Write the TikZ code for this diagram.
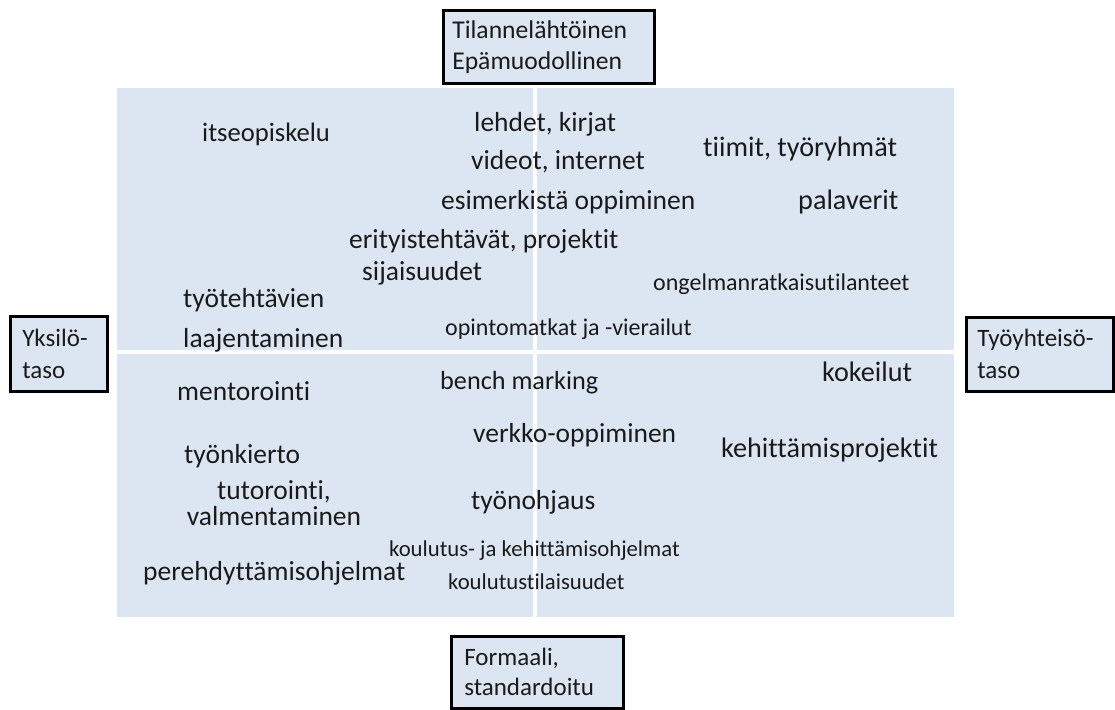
\documentclass[tikz,border=0pt]{standalone}
\usepackage{fontspec}
\setmainfont{Carlito}[Ligatures=NoCommon]
\definecolor{quadblue}{HTML}{DCE6F2}
\definecolor{inktext}{HTML}{1A1A1A}
\begin{document}
\begin{tikzpicture}[x=1pt,y=-1pt,
  % the anchor of a label sits at the middle of its lower-case letters
  lbl/.style={anchor=west,inner sep=0pt,text=inktext,font=\fontsize{27.5}{27.5}\selectfont,
    text height=20pt,text depth=7pt,yshift=-3pt},
  lblbig/.style={lbl,font=\fontsize{28.2}{28.2}\selectfont},
  lblmid/.style={lbl,font=\fontsize{24}{24}\selectfont,text height=17.5pt,text depth=6.3pt},
  lblsmall/.style={lbl,font=\fontsize{22.7}{22.7}\selectfont,text height=16.5pt,text depth=6pt},
  axisbox/.style={draw=black,line width=2.6pt,fill=quadblue,anchor=north west,
    align=left,inner ysep=0pt,text=inktext,
    font=\fontsize{25}{32}\selectfont}]
\useasboundingbox (0,0) rectangle (1115,709);
% quadrant field with white dividers
\fill[quadblue] (117,88) rectangle (954,617);
\draw[white,line width=4pt] (535,88) -- (535,617);
\draw[white,line width=4pt] (117,352) -- (954,352);
% axis boxes
\node[axisbox,font=\fontsize{25.6}{31}\selectfont,inner xsep=9pt,
  minimum width=211,minimum height=73,text width=193] (top) at (442,9)
  {Tilannelähtöinen\\Epämuodollinen};
\node[axisbox,inner xsep=12pt,minimum width=97,minimum height=75,text width=73] (left) at (9,315)
  {Yksilö-\\taso};
\node[axisbox,inner xsep=11pt,minimum width=147,minimum height=74,text width=125] (right) at (965,316)
  {Työyhteisö-\\taso};
\node[axisbox,font=\fontsize{25}{30}\selectfont,inner xsep=13pt,
  minimum width=172,minimum height=72,text width=146] (bottom) at (450,635)
  {Formaali,\\standardoitu};
% learning methods
\node[lbl,font=\fontsize{26.6}{26.6}\selectfont] (n1) at (202,132) {itseopiskelu};
\node[lbl] (n2) at (474,122) {lehdet, kirjat};
\node[lbl] (n3) at (471,160) {videot, internet};
\node[lblbig] (n4) at (703,147) {tiimit, työryhmät};
\node[lbl] (n5) at (441,200) {esimerkistä oppiminen};
\node[lblbig] (n6) at (798,200) {palaverit};
\node[lbl] (n7) at (349,239) {erityistehtävät, projektit};
\node[lbl] (n8) at (362,271) {sijaisuudet};
\node[lblmid] (n9) at (653,282) {ongelmanratkaisutilanteet};
\node[lbl] (n10) at (183,298) {työtehtävien};
\node[lbl] (n11) at (183,338) {laajentaminen};
\node[lblmid] (n12) at (445,327) {opintomatkat ja -vierailut};
\node[lbl] (n13) at (177,391) {mentorointi};
\node[lbl,font=\fontsize{26.2}{26.2}\selectfont] (n14) at (440,380) {bench marking};
\node[lblbig] (n15) at (822,372) {kokeilut};
\node[lbl] (n16) at (473,433) {verkko-oppiminen};
\node[lblbig] (n17) at (721,448) {kehittämisprojektit};
\node[lbl] (n18) at (184,454) {työnkierto};
\node[anchor=center,align=center,inner sep=0pt,text=inktext,yshift=-3pt,
  font=\fontsize{27.5}{26.5}\selectfont] (n19) at (274,500) {tutorointi,\\valmentaminen};
\node[lbl] (n20) at (471,500) {työnohjaus};
\node[lblsmall] (n21) at (389,548) {koulutus- ja kehittämisohjelmat};
\node[lbl] (n22) at (143,571) {perehdyttämisohjelmat};
\node[lblsmall] (n23) at (448,581) {koulutustilaisuudet};
\end{tikzpicture}
\end{document}
